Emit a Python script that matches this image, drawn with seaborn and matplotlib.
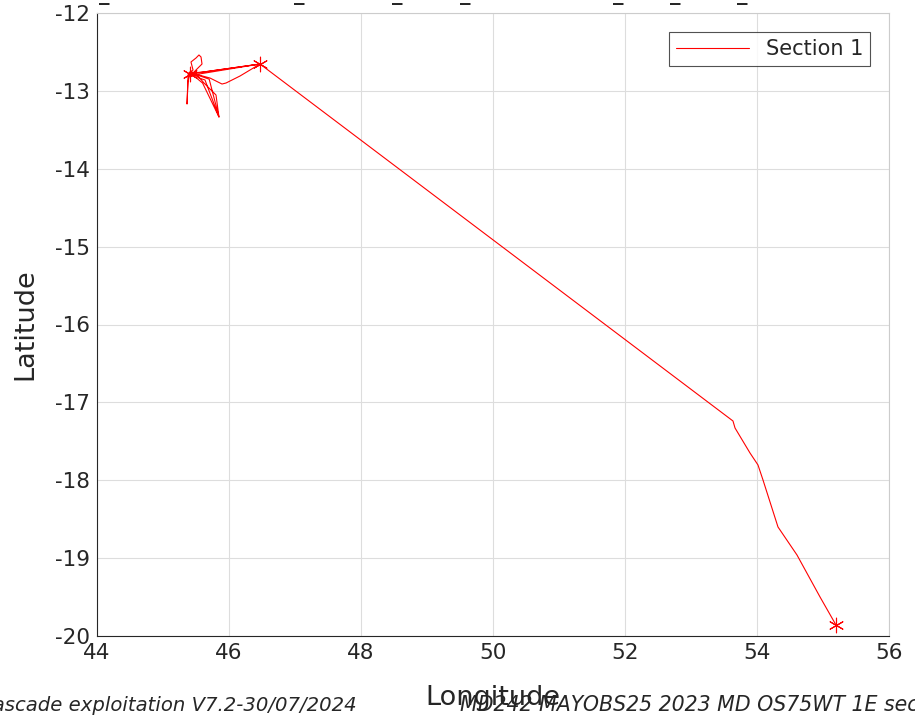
import numpy as np
import pandas as pd
import matplotlib
matplotlib.use("Agg")
import matplotlib.pyplot as plt
import seaborn as sns

# Ship track (Section 1)
lon = [46.470, 45.606, 45.439, 45.379, 45.364, 45.379, 45.409, 45.455, 45.424, 45.500,
       45.545, 45.576, 45.591, 45.515, 45.455, 45.400, 45.440, 45.380, 45.420, 45.460,
       45.410, 45.485, 45.545, 45.636, 45.848, 45.803, 45.621, 45.530, 45.439, 45.485,
       45.712, 45.894, 45.955, 46.167, 46.470, 45.500, 45.700, 45.848, 45.600, 45.430,
       46.470, 53.636, 53.667, 53.894, 54.015, 54.091,
       54.318, 54.606, 54.955, 55.197]
lat = [-12.655, -12.758, -12.770, -12.809, -13.169, -12.886, -12.758, -12.732, -12.629, -12.578,
       -12.539, -12.565, -12.655, -12.719, -12.770, -12.780, -12.800, -12.790, -12.750, -12.790,
       -12.820, -12.796, -12.835, -12.860, -13.335, -13.053, -12.899, -12.809, -12.758, -12.783,
       -12.835, -12.912, -12.899, -12.809, -12.655, -12.790, -12.850, -13.335, -12.900, -12.780,
       -12.655, -17.239, -17.329, -17.650, -17.804, -17.997,
       -18.600, -18.960, -19.499, -19.859]
# station markers
mark_lon = [46.470, 45.410, 55.197]
mark_lat = [-12.655, -12.780, -19.859]

xticks = [44, 46, 48, 50, 52, 54, 56]
yticks = [-12, -13, -14, -15, -16, -17, -18, -19, -20]
top_dash_x = [104, 299, 397, 465, 618, 675, 742]

df = pd.DataFrame({"Longitude": lon, "Latitude": lat, "order": range(len(lon))})
dm = pd.DataFrame({"Longitude": mark_lon, "Latitude": mark_lat})

sns.set_style("white")
plt.rcParams['font.family'] = ['DejaVu Sans']

fig = plt.figure(figsize=(9.15, 7.16), dpi=100)
ax = fig.add_axes([97/915, 1-636/716, (889-97)/915, (636-13)/716])

sns.lineplot(data=df, x="Longitude", y="Latitude", sort=False, estimator=None,
             color="red", lw=0.8, ax=ax, label="Section 1")
sns.scatterplot(data=dm, x="Longitude", y="Latitude", marker=(6, 2, 0), s=110,
                color="red", linewidth=0.8, ax=ax, legend=False)

ax.set_xlim(44, 56)
ax.set_ylim(-20, -12)
ax.set_xticks(xticks)
ax.set_yticks(yticks)
ax.set_xticklabels([str(v) for v in xticks])
ax.set_yticklabels([str(v) for v in yticks])
ax.grid(True, color="#dddddd", lw=0.8)
ax.set_axisbelow(True)
ax.tick_params(direction="in", length=5, labelsize=15.5, colors="#262626",
               top=False, right=False, pad=5)
for s in ["left", "bottom"]:
    ax.spines[s].set_color("#262626")
for s in ["top", "right"]:
    ax.spines[s].set_color("#cccccc")
for s in ax.spines.values():
    s.set_linewidth(0.8)
ax.set_xlabel("Longitude", fontsize=19.5, color="#262626", labelpad=16)
ax.set_ylabel("Latitude", fontsize=19.5, color="#262626", labelpad=12)

leg = ax.legend(loc="upper right", fontsize=15, frameon=True, fancybox=False,
                handlelength=3.5, borderaxespad=0.9, borderpad=0.35)
leg.get_frame().set_edgecolor("#262626")
leg.get_frame().set_linewidth(0.8)
for t in leg.get_texts():
    t.set_color("#262626")

fig.text(357/915, 1-711/716, "Cascade exploitation V7.2-30/07/2024", ha="right",
         va="baseline", fontsize=14.1, style="italic", color="#262626")
fig.text(460/915, 1-711/716, "MD242 MAYOBS25 2023 MD OS75WT 1E section 1", ha="left",
         va="baseline", fontsize=14.8, style="italic", color="#262626")
for xp in top_dash_x:
    fig.text(xp/915, 1.0, "_", ha="center", va="baseline", fontsize=15,
             fontweight="bold", color="#262626")

fig.savefig("out.png", dpi=100)
